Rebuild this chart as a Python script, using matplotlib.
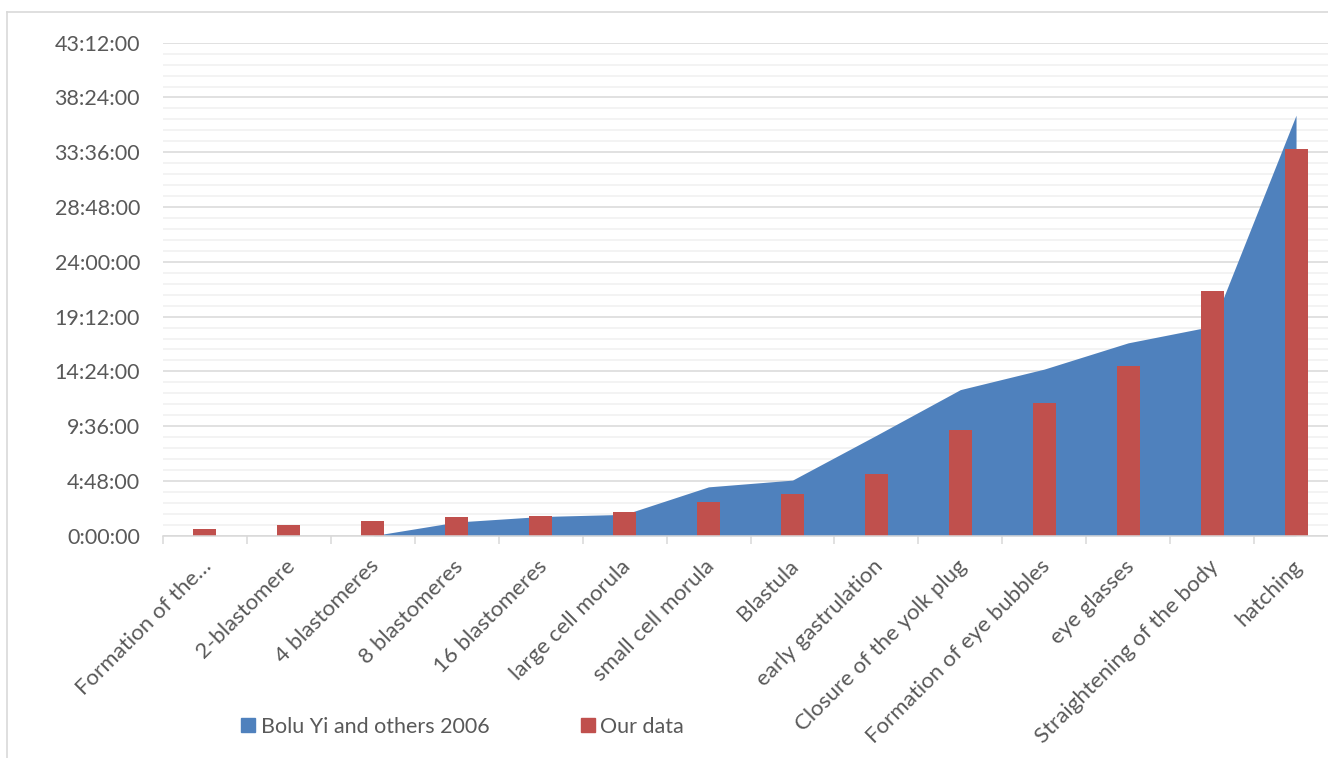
import matplotlib
matplotlib.use("Agg")
import matplotlib.pyplot as plt
import numpy as np
from matplotlib.ticker import FuncFormatter, MultipleLocator
from matplotlib.patches import Rectangle
from matplotlib.lines import Line2D
from matplotlib.transforms import ScaledTranslation

# ---- data (hours) ----
categories = ["Formation of the\u2026", "2-blastomere", "4 blastomeres", "8 blastomeres",
              "16 blastomeres", "large cell morula", "small cell morula", "Blastula",
              "early gastrulation", "Closure of the yolk plug", "Formation of eye bubbles",
              "eye glasses", "Straightening of the body", "hatching"]
bolu_2006 = [0, 0, 0, 1.2, 1.68, 1.87, 4.28, 4.87, 8.8, 12.8, 14.6, 16.9, 18.35, 36.85]
our_data = [0.61, 0.94, 1.28, 1.62, 1.77, 2.07, 2.95, 3.62, 5.42, 9.3, 11.66, 14.9, 21.4, 33.9]
series_names = ["Bolu Yi and others 2006", "Our data"]

BLUE = "#4F81BD"
RED = "#C0504D"
TXT = "#595959"
FONT = "Lato"
plt.rcParams['font.family'] = [FONT, 'DejaVu Sans']

W, H = 1328, 758
fig = plt.figure(figsize=(W / 100, H / 100), dpi=100)
fig.patch.set_facecolor("white")

x0, x1 = 163, 1338
y_zero, y_top = 535.7, 42.7
ax = fig.add_axes([x0 / W, (H - y_zero) / H, (x1 - x0) / W, (y_zero - y_top) / H])

x = np.arange(len(categories))
ax.fill_between(x, 0, bolu_2006, color=BLUE, lw=0, zorder=2)
ax.bar(x, our_data, width=0.274, color=RED, zorder=3)

ax.set_xlim(-0.5, len(categories) - 0.5)
ax.set_ylim(0, 43.2)

ax.yaxis.set_major_locator(MultipleLocator(4.8))
ax.yaxis.set_minor_locator(MultipleLocator(0.96))

def fmt(v, pos):
    total = int(round(v * 3600))
    h = total // 3600
    m = (total % 3600) // 60
    s = total % 60
    return f"{h}:{m:02d}:{s:02d}"

ax.yaxis.set_major_formatter(FuncFormatter(fmt))
ax.grid(which="major", axis="y", color="#d9d9d9", lw=1.1, zorder=0)
ax.grid(which="minor", axis="y", color="#f0f0f0", lw=1.1, zorder=0)
ax.set_axisbelow(True)

for s in ["top", "right", "left"]:
    ax.spines[s].set_visible(False)
ax.spines["bottom"].set_color("#d9d9d9")
ax.spines["bottom"].set_linewidth(1.1)
ax.spines["bottom"].set_zorder(4)

ax.tick_params(axis="y", which="both", length=0, pad=16.5, labelsize=15.5, labelcolor=TXT)
ax.set_xticks(x)
ax.set_xticklabels(categories)
ax.set_xticks(np.arange(-0.5, len(categories)), minor=True)
ax.tick_params(axis="x", which="major", length=0, pad=6, labelsize=16, labelcolor=TXT)
ax.tick_params(axis="x", which="minor", length=6, width=1.1, color="#d9d9d9")
offset = ScaledTranslation(-4 / 100, -12 / 100, fig.dpi_scale_trans)
for lab in ax.get_xticklabels():
    lab.set_rotation(45)
    lab.set_ha("right")
    lab.set_va("top")
    lab.set_rotation_mode("anchor")
    lab.set_transform(lab.get_transform() + offset)

# outer chart border (cropped on right and bottom)
fig.add_artist(Line2D([7 / W, 7 / W], [0, 1 - 11.5 / H], color="#d9d9d9", lw=1.2))
fig.add_artist(Line2D([7 / W, 1], [1 - 11.5 / H, 1 - 11.5 / H], color="#d9d9d9", lw=1.2))

# legend (manual)
def legend_item(xs, color, label):
    fig.add_artist(Rectangle((xs / W, 1 - 732 / H), 14 / W, 14 / H, color=color,
                             transform=fig.transFigure))
    fig.text((xs + 20) / W, 1 - 725 / H, label, ha="left", va="center_baseline",
             fontsize=15.5, color=TXT)

legend_item(241, BLUE, series_names[0])
legend_item(580.5, RED, series_names[1])

fig.savefig("out.png", dpi=100, facecolor="white")
